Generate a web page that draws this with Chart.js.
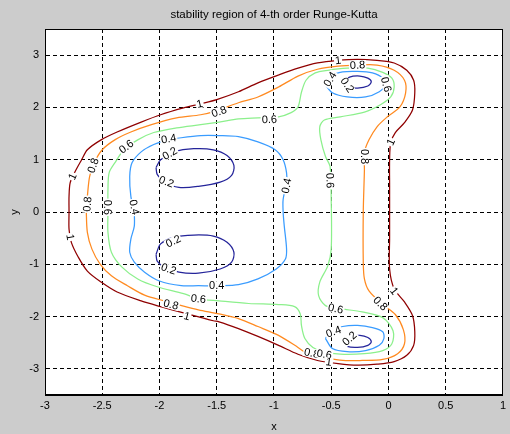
<!DOCTYPE html>
<html>
<head>
<meta charset="utf-8">
<script src="https://cdn.jsdelivr.net/npm/chart.js@4/dist/chart.umd.min.js"></script>
<style>
  html, body { margin: 0; padding: 0; background: #cccccc; }
  #c { display: block; }
</style>
</head>
<body>
<canvas id="c" width="510" height="434"></canvas>
<script>
// Contour levels of |R(z)| for the classical RK4 amplification factor
const levels = [0.2, 0.4, 0.6, 0.8, 1];
const levelColors = { 0.2: '#24249a', 0.4: '#3a9cff', 0.6: '#8cf08c', 0.8: '#ff8a20', 1: '#8f0000' };

const xTickValues = [-3, -2.5, -2, -1.5, -1, -0.5, 0, 0.5, 1];
const yTickValues = [-3, -2, -1, 0, 1, 2, 3];

// level 1 (stability boundary)
const contour10 = [
  [-2.79,0.00],[-2.79,0.30],[-2.78,0.56],[-2.74,0.76],[-2.68,1.00],[-2.63,1.19],[-2.51,1.38],[-2.37,1.53],
  [-2.16,1.72],[-1.99,1.86],[-1.79,1.99],[-1.64,2.07],[-1.50,2.15],[-1.31,2.30],[-1.14,2.47],[-0.96,2.62],
  [-0.79,2.75],[-0.62,2.85],[-0.44,2.90],[-0.27,2.92],[-0.10,2.90],[0.05,2.85],[0.16,2.71],[0.22,2.52],
  [0.23,2.28],[0.21,1.95],[0.14,1.71],[0.06,1.52],[0.02,1.33],[0.01,1.00],[0.01,0.50],[0.01,0.00],
  [0.01,-0.50],[0.01,-1.09],[0.05,-1.47],[0.14,-1.72],[0.21,-1.98],[0.23,-2.29],[0.22,-2.55],[0.16,-2.74],
  [0.05,-2.86],[-0.10,-2.91],[-0.27,-2.93],[-0.44,-2.90],[-0.62,-2.84],[-0.79,-2.72],[-0.96,-2.55],
  [-1.14,-2.38],[-1.31,-2.23],[-1.48,-2.10],[-1.53,-2.08],[-1.79,-1.93],[-1.99,-1.81],[-2.16,-1.70],
  [-2.37,-1.53],[-2.51,-1.34],[-2.63,-1.13],[-2.71,-0.86],[-2.77,-0.58],[-2.79,-0.33],[-2.79,0.00]
];

// level 0.8
const contour08 = [
  [-2.64,0.05],[-2.63,0.30],[-2.61,0.68],[-2.57,0.94],[-2.50,1.19],[-2.39,1.38],[-2.25,1.53],[-2.07,1.67],
  [-1.85,1.80],[-1.64,1.86],[-1.51,1.93],[-1.31,2.09],[-1.14,2.20],[-0.96,2.39],[-0.79,2.60],[-0.62,2.73],
  [-0.44,2.79],[-0.27,2.81],[-0.10,2.81],[0.05,2.71],[0.14,2.52],[0.15,2.28],[0.10,2.01],[-0.01,1.82],
  [-0.10,1.63],[-0.17,1.38],[-0.21,1.14],[-0.21,0.81],[-0.22,0.00],[-0.22,-0.96],[-0.21,-1.28],[-0.17,-1.51],
  [-0.05,-1.77],[0.06,-1.96],[0.13,-2.25],[0.14,-2.52],[0.08,-2.71],[-0.05,-2.82],[-0.23,-2.84],[-0.40,-2.84],
  [-0.57,-2.78],[-0.70,-2.72],[-0.79,-2.59],[-0.96,-2.36],[-1.14,-2.19],[-1.31,-2.04],[-1.48,-1.95],
  [-1.66,-1.87],[-1.79,-1.80],[-1.96,-1.70],[-2.13,-1.59],[-2.28,-1.41],[-2.42,-1.22],[-2.52,-0.99],
  [-2.59,-0.71],[-2.63,-0.39],[-2.64,0.05]
];

// level 0.6
const contour06 = [
  [-2.45,0.00],[-2.45,0.43],[-2.44,0.75],[-2.39,0.94],[-2.31,1.19],[-2.19,1.38],[-2.05,1.52],[-1.85,1.61],
  [-1.64,1.67],[-1.48,1.72],[-1.31,1.78],[-1.14,1.80],[-0.96,1.82],[-0.85,1.90],[-0.79,2.01],[-0.76,2.29],
  [-0.72,2.52],[-0.64,2.66],[-0.53,2.71],[-0.36,2.75],[-0.18,2.75],[-0.05,2.67],[0.03,2.56],[0.05,2.39],
  [0.02,2.20],[-0.07,2.05],[-0.21,1.91],[-0.42,1.82],[-0.56,1.76],[-0.60,1.63],[-0.59,1.38],[-0.55,1.06],
  [-0.51,0.87],[-0.50,0.24],[-0.50,-0.71],[-0.53,-1.03],[-0.60,-1.34],[-0.61,-1.60],[-0.55,-1.79],
  [-0.42,-1.85],[-0.23,-1.91],[-0.05,-2.02],[0.04,-2.27],[0.03,-2.52],[-0.05,-2.65],[-0.21,-2.71],
  [-0.42,-2.72],[-0.57,-2.67],[-0.66,-2.59],[-0.73,-2.42],[-0.76,-2.17],[-0.77,-1.95],[-0.82,-1.81],
  [-0.96,-1.77],[-1.22,-1.75],[-1.48,-1.70],[-1.66,-1.66],[-1.79,-1.56],[-2.02,-1.43],[-2.19,-1.28],
  [-2.33,-1.05],[-2.42,-0.77],[-2.45,-0.39],[-2.45,0.00]
];

// level 0.4: main loop and the two small loops near the imaginary axis
const contour04 = [
  [-2.22,0.00],[-2.25,0.30],[-2.26,0.68],[-2.24,0.94],[-2.16,1.15],[-2.05,1.29],[-1.92,1.38],[-1.81,1.42],
  [-1.64,1.46],[-1.48,1.46],[-1.31,1.44],[-1.14,1.34],[-0.99,1.19],[-0.92,1.00],[-0.89,0.75],[-0.89,0.56],
  [-0.92,0.24],[-0.92,0.00],[-0.91,-0.27],[-0.89,-0.71],[-0.90,-0.90],[-0.98,-1.09],[-1.14,-1.28],
  [-1.31,-1.39],[-1.48,-1.41],[-1.66,-1.41],[-1.81,-1.41],[-2.00,-1.32],[-2.13,-1.15],[-2.22,-0.96],
  [-2.26,-0.77],[-2.25,-0.52],[-2.22,-0.27],[-2.22,0.00]
];
const contour04Top = [
  [-0.55,2.43],[-0.50,2.60],[-0.40,2.68],[-0.27,2.69],[-0.14,2.66],[-0.05,2.56],[-0.03,2.43],[-0.08,2.30],
  [-0.20,2.20],[-0.36,2.20],[-0.49,2.28],[-0.55,2.43]
];
const contour04Bottom = [
  [-0.55,-2.42],[-0.50,-2.27],[-0.40,-2.19],[-0.27,-2.17],[-0.14,-2.21],[-0.05,-2.29],[-0.04,-2.42],
  [-0.08,-2.55],[-0.20,-2.65],[-0.36,-2.67],[-0.49,-2.61],[-0.55,-2.42]
];

// level 0.2: four small loops around the roots
const contour02Upper = [
  [-2.03,0.85],[-1.99,1.00],[-1.87,1.15],[-1.70,1.21],[-1.53,1.19],[-1.41,1.08],[-1.35,0.89],[-1.37,0.70],
  [-1.47,0.57],[-1.66,0.49],[-1.83,0.47],[-1.96,0.58],[-2.02,0.72],[-2.03,0.85]
];
const contour02Lower = [
  [-2.03,-0.81],[-1.99,-0.61],[-1.87,-0.48],[-1.70,-0.44],[-1.53,-0.46],[-1.41,-0.58],[-1.35,-0.77],
  [-1.37,-0.96],[-1.47,-1.09],[-1.66,-1.17],[-1.83,-1.15],[-1.96,-1.05],[-2.02,-0.94],[-2.03,-0.81]
];
const contour02Top = [
  [-0.39,2.49],[-0.34,2.58],[-0.25,2.60],[-0.18,2.56],[-0.15,2.49],[-0.18,2.41],[-0.27,2.37],[-0.36,2.39],[-0.39,2.49]
];
const contour02Bottom = [
  [-0.39,-2.48],[-0.34,-2.38],[-0.25,-2.36],[-0.18,-2.40],[-0.15,-2.48],[-0.18,-2.55],[-0.27,-2.59],[-0.36,-2.57],[-0.39,-2.48]
];

const contours = [
  { level: 1,   pts: contour10 },
  { level: 0.8, pts: contour08 },
  { level: 0.6, pts: contour06 },
  { level: 0.4, pts: contour04 },
  { level: 0.4, pts: contour04Top },
  { level: 0.4, pts: contour04Bottom },
  { level: 0.2, pts: contour02Upper },
  { level: 0.2, pts: contour02Lower },
  { level: 0.2, pts: contour02Top },
  { level: 0.2, pts: contour02Bottom }
];

// inline level labels (level, anchor x, anchor y)
const labelLevels = [1, 0.8, 0.6, 0.6, 0.4, 0.2, 0.2, 1, 0.8, 0.8, 0.6, 0.4,
                     1, 0.2, 0.2, 0.4, 0.6, 0.8, 1,
                     0.4, 0.6, 0.8, 1,
                     1, 0.8, 0.6, 0.4, 0.2, 0.8, 0.6, 1,
                     1, 0.8, 0.4, 0.2, 0.6];
const labelX = [-1.65, -1.48, -1.04, -2.29, -1.92, -1.91, -1.94, -2.76, -2.58, -2.63, -2.45, -2.22,
                -2.78, -1.88, -1.92, -1.50, -1.66, -1.90, -1.76,
                -0.89, -0.51, -0.21, 0.02,
                0.05, -0.07, -0.46, -0.48, -0.34, -0.67, -0.56, -0.52,
                -0.44, -0.27, -0.51, -0.36, -0.02];
const labelY = [2.07, 1.92, 1.77, 1.25, 1.40, 1.12, 0.58, 0.68, 0.89, 0.15, 0.09, 0.09,
                -0.48, -0.56, -1.09, -1.41, -1.66, -1.77, -1.99,
                0.50, 0.60, 1.06, 1.34,
                -1.51, -1.75, -1.85, -2.29, -2.42, -2.70, -2.72, -2.87,
                2.90, 2.81, 2.54, 2.43, 2.44];

const FONT = '"Liberation Sans", Arial, Helvetica, sans-serif';
Chart.defaults.font.family = FONT;
Chart.defaults.color = '#000';

const frameAndBackground = {
  id: 'frameAndBackground',
  beforeDraw(chart) {
    const { ctx, chartArea: a } = chart;
    ctx.save();
    ctx.fillStyle = '#cccccc';
    ctx.fillRect(0, 0, chart.width, chart.height);
    ctx.fillStyle = '#ffffff';
    ctx.fillRect(a.left, a.top, a.right - a.left, a.bottom - a.top);
    ctx.restore();
  },
  afterDraw(chart) {
    const { ctx, chartArea: a } = chart;
    ctx.save();
    ctx.strokeStyle = '#000';
    ctx.lineWidth = 1;
    ctx.setLineDash([]);
    ctx.strokeRect(Math.round(a.left) + 0.5, Math.round(a.top) + 0.5,
                   Math.round(a.right - a.left) - 1, Math.round(a.bottom - a.top) - 1);
    ctx.restore();
  }
};

// Draws each level value on its line, rotated along the nearest segment
const contourLabels = {
  id: 'contourLabels',
  afterDatasetsDraw(chart) {
    const { ctx } = chart;
    const xs = chart.scales.x, ys = chart.scales.y;
    ctx.save();
    ctx.font = '11px ' + FONT;
    ctx.textAlign = 'center';
    ctx.textBaseline = 'middle';
    labelLevels.forEach((lv, i) => {
      const px = xs.getPixelForValue(labelX[i]);
      const py = ys.getPixelForValue(labelY[i]);
      let best = Infinity, ang = 0;
      chart.data.datasets.forEach(ds => {
        if (ds.level !== lv) return;
        const d = ds.data;
        for (let k = 0; k < d.length - 1; k++) {
          const ax = xs.getPixelForValue(d[k].x), ay = ys.getPixelForValue(d[k].y);
          const bx = xs.getPixelForValue(d[k + 1].x), by = ys.getPixelForValue(d[k + 1].y);
          const vx = bx - ax, vy = by - ay;
          const len2 = vx * vx + vy * vy || 1;
          let t = ((px - ax) * vx + (py - ay) * vy) / len2;
          t = Math.max(0, Math.min(1, t));
          const qx = ax + t * vx - px, qy = ay + t * vy - py;
          const dist = qx * qx + qy * qy;
          if (dist < best) { best = dist; ang = Math.atan2(vy, vx); }
        }
      });
      if (ang > Math.PI / 2) ang -= Math.PI;
      if (ang <= -Math.PI / 2) ang += Math.PI;
      const txt = String(lv);
      const w = ctx.measureText(txt).width;
      ctx.save();
      ctx.translate(px, py);
      ctx.rotate(ang);
      ctx.fillStyle = '#ffffff';
      ctx.fillRect(-w / 2 - 1, -4.5, w + 2, 9);
      ctx.fillStyle = '#000';
      ctx.fillText(txt, 0, 0.5);
      ctx.restore();
    });
    ctx.restore();
  }
};

const datasets = contours.map(c => ({
  level: c.level,
  data: c.pts.map(p => ({ x: p[0], y: p[1] })),
  showLine: true,
  borderColor: levelColors[c.level],
  borderWidth: 1.25,
  pointRadius: 0,
  pointHoverRadius: 0,
  tension: 0.3,
  fill: false
}));

new Chart(document.getElementById('c'), {
  type: 'scatter',
  data: { datasets },
  options: {
    responsive: false,
    animation: false,
    devicePixelRatio: 1,
    layout: { padding: { left: 0, right: 3, top: 0, bottom: 0 } },
    plugins: { legend: { display: false }, tooltip: { enabled: false } },
    events: [],
    scales: {
      x: {
        type: 'linear', position: 'bottom', min: -3, max: 1,
        afterBuildTicks: s => { s.ticks = xTickValues.map(v => ({ value: v })); },
        afterFit: s => { s.height = 39; },
        ticks: { font: { size: 11 }, color: '#000', padding: 4, maxRotation: 0, autoSkip: false,
                 callback: v => String(v) },
        grid: { color: '#000', lineWidth: 1, drawTicks: false },
        border: { display: true, color: '#000', dash: [4, 3] },
        title: { display: true, text: 'x', font: { size: 11 }, color: '#000', padding: { top: 0, bottom: 0 } }
      },
      x2: {
        type: 'linear', axis: 'x', position: 'top', min: -3, max: 1,
        afterFit: s => { s.height = 29; },
        ticks: { display: false },
        grid: { display: false, drawTicks: false },
        border: { display: false },
        title: { display: true, text: 'stability region of 4-th order Runge-Kutta',
                 font: { size: 11.5 }, color: '#000', padding: { top: 8, bottom: 0 } }
      },
      y: {
        type: 'linear', position: 'left', min: -3.5, max: 3.5,
        afterBuildTicks: s => { s.ticks = yTickValues.map(v => ({ value: v })); },
        afterFit: s => { s.width = 45; },
        ticks: { font: { size: 11 }, color: '#000', padding: 6, callback: v => String(v) },
        grid: { color: '#000', lineWidth: 1, drawTicks: false },
        border: { display: true, color: '#000', dash: [4, 3] },
        title: { display: true, text: 'y', font: { size: 11 }, color: '#000', padding: { top: 8, bottom: 0 } }
      }
    }
  },
  plugins: [frameAndBackground, contourLabels]
});
</script>
</body>
</html>
